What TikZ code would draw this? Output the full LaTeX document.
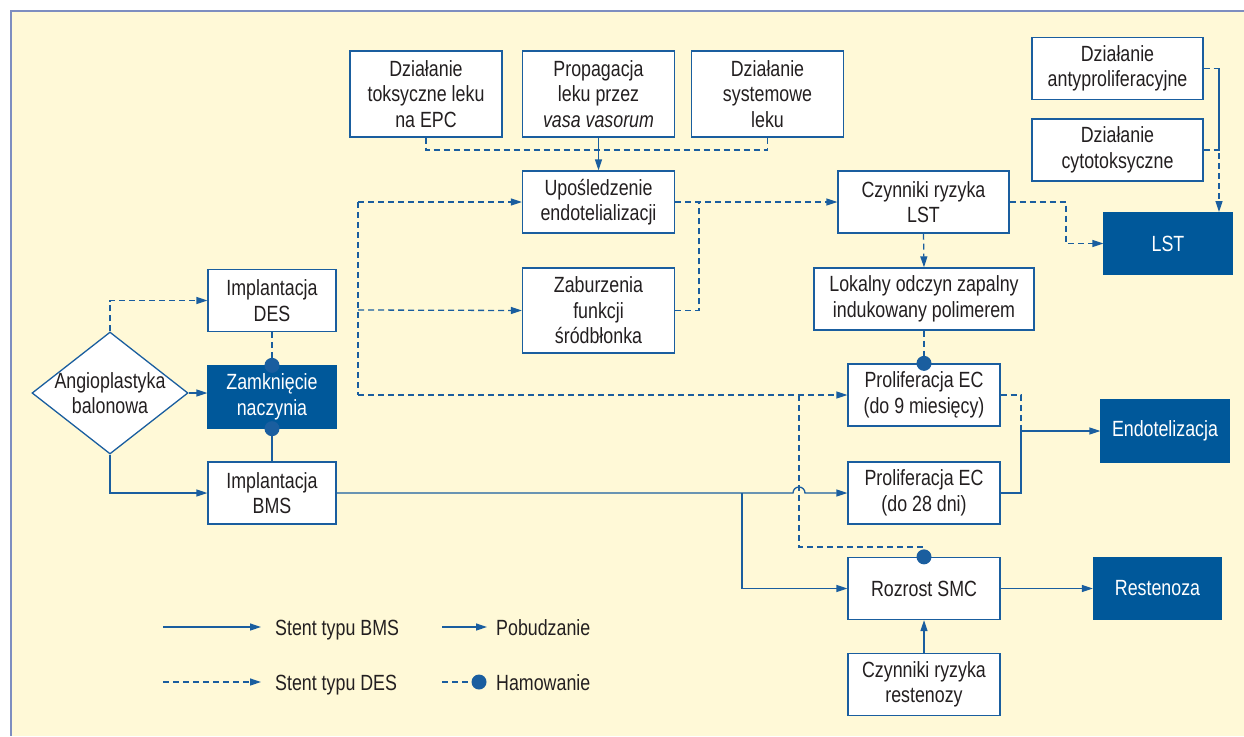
\documentclass[tikz,border=0pt]{standalone}
\usepackage{fontspec}
\setmainfont{Liberation Sans}[FakeStretch=0.81]
\usetikzlibrary{arrows.meta,shapes.geometric}
\definecolor{linia}{HTML}{1A5E9F}
\definecolor{ciemny}{HTML}{00589A}
\definecolor{tlo}{HTML}{FFF9D7}
\definecolor{ramka}{HTML}{7E8EC0}
\definecolor{tekst}{HTML}{231F20}

\begin{document}
\begin{tikzpicture}[x=1pt, y=-1pt, font=\fontsize{22}{25.5}\selectfont,
  pole/.style={draw=linia, line width=1.3pt, fill=white, text=tekst, align=center,
    inner sep=0pt, minimum width=152pt, minimum height=62pt},
  wynik/.style={pole, draw=ciemny, fill=ciemny, text=white, minimum width=128pt},
  romb/.style={diamond, draw=linia, line width=1.3pt, fill=white, inner sep=0pt,
    minimum width=156pt, minimum height=122pt},
  bmsl/.style={draw=linia, line width=1.3pt},
  desl/.style={bmsl, dash pattern=on 6pt off 4pt},
  grot/.style={-{Triangle[length=11pt,width=7pt]}},
  opis/.style={anchor=base west, text=tekst, inner sep=0pt}]

\useasboundingbox (0,0) rectangle (1244,736);
\fill[tlo] (11,11) rectangle (1244,736); % tlo
\draw[ramka, line width=2.5pt] (1244,11) -- (11,11) -- (11,736); % ramka

% gorny rzad
\node[pole, minimum height=86pt] (toks) at (426,94) {Działanie\\toksyczne leku\\na EPC}; % toks
\node[pole, minimum height=86pt] (vasa) at (598.5,94) {Propagacja\\leku przez\\\textit{vasa vasorum}}; % vasa
\node[pole, minimum height=86pt] (syst) at (767.5,94) {Działanie\\systemowe\\leku}; % syst
\node[pole] (upos) at (598.5,202) {Upośledzenie\\endotelializacji}; % upos
\node[pole, minimum height=85pt] (zabu) at (598.5,310.5) {Zaburzenia\\funkcji\\śródbłonka}; % zabu

% LST
\node[pole, minimum width=171pt] (anty) at (1117.5,68.5) {Działanie\\antyproliferacyjne}; % anty
\node[pole, minimum width=171pt] (cyto) at (1117.5,150) {Działanie\\cytotoksyczne}; % cyto
\node[pole, minimum width=171pt] (czlst) at (923.5,202) {Czynniki ryzyka\\LST}; % czlst
\node[wynik] (lst) at (1168,243.5) {LST}; % lst
\node[pole, minimum width=220pt] (lok) at (924,299) {Lokalny odczyn zapalny\\indukowany polimerem}; % lok

% prawa kolumna
\node[pole] (pr9) at (924,395) {Proliferacja EC\\(do 9 miesięcy)}; % pr9
\node[pole] (pr28) at (924,493) {Proliferacja EC\\(do 28 dni)}; % pr28
\node[pole] (smc) at (924,588.5) {Rozrost SMC}; % smc
\node[pole] (czres) at (924,684.5) {Czynniki ryzyka\\restenozy}; % czres
\node[wynik] (endo) at (1165,431) {Endotelizacja}; % endo
\node[wynik] (rest) at (1157.5,588.5) {Restenoza}; % rest

% lewa strona
\node[romb] (angio) at (110,393) {}; % angio
\node[align=center, text=tekst, inner sep=0pt] at (angio) {Angioplastyka\\balonowa}; % angio
\node[pole, minimum width=128pt] (des) at (272,300.5) {Implantacja\\DES}; % des
\node[wynik] (zamk) at (272,397) {Zamknięcie\\naczynia}; % zamk
\node[pole, minimum width=128pt] (bms) at (272,493) {Implantacja\\BMS}; % bms

% punkty pomocnicze
\coordinate (zbier) at (598.5,150); % zbier
\coordinate (pien) at (358,310); % pien
\coordinate (lacz) at (699,202); % lacz
\coordinate (lstzb) at (1066,243.5); % lstzb
\coordinate (pionlst) at (1219,212); % pionlst
\coordinate (endozb) at (1021,431); % endozb
\coordinate (rozg) at (742,493); % rozg
\coordinate (hamsmc) at (799,547); % hamsmc

% polaczenia DES
\draw[desl] (toks.south) |- (zbier) -| (syst.south); % zbier
\draw[bmsl, grot] (vasa.south) -- (upos.north); % vasa-upos
\draw[desl] (pien |- upos.west) -- (pien |- pr9.west); % pien
\draw[desl, grot] (pien |- upos.west) -- (upos.west); % pien-upos
\draw[desl, grot] (pien) -- (zabu.west); % pien-zabu
\draw[desl, grot] (pien |- pr9.west) -- (pr9.west); % pien-pr9
\draw[desl, grot] (upos.east) -- (czlst.west); % upos-czlst
\draw[desl] (zabu.east) -| (lacz); % zabu-lacz
\draw[desl, grot] (czlst.east) -| (lstzb) -- (lst.west); % czlst-lst
\draw[desl, grot] (anty.east) -| (pionlst); % anty-lst
\draw[desl] (cyto.east) -| (pionlst |- anty.east); % cyto-lst
\draw[desl, grot] (czlst.south) -- (lok.north); % czlst-lok
\draw[desl] (lok.south) -- (pr9.north); % lok-pr9
\fill[linia] (pr9.north) circle (7.5); % lok-pr9
\draw[desl] (pr9.east) -| (endozb); % pr9-endo
\draw[desl] (hamsmc |- pr9.west) -- (hamsmc) -| (smc.north); % pr9-smc
\fill[linia] (smc.north) circle (7.5); % pr9-smc

% polaczenia BMS
\draw[bmsl, grot] (bms.east) -- (793,493) arc[start angle=180, end angle=360, radius=6] -- (pr28.west); % bms-pr28
\draw[bmsl, grot] (rozg) |- (smc.west); % bms-smc
\draw[bmsl] (pr28.east) -| (endozb); % pr28-endo
\draw[bmsl, grot] (endozb) -- (endo.west); % endo
\draw[bmsl, grot] (smc.east) -- (rest.west); % smc-rest
\draw[bmsl, grot] (czres.north) -- (smc.south); % czres-smc

% lewa strona
\draw[desl, grot] (angio.north) |- (des.west); % angio-des
\draw[bmsl, grot] (angio.south) |- (bms.west); % angio-bms
\draw[bmsl, grot] (angio.east) -- (zamk.west |- angio.east); % angio-zamk
\draw[desl] (des.south) -- (zamk.north); % des-zamk
\fill[linia] (zamk.north) circle (7.5); % des-zamk
\draw[bmsl] (bms.north) -- (zamk.south); % bms-zamk
\fill[linia] (zamk.south) circle (7.5); % bms-zamk

% legenda
\draw[bmsl, grot] (163,627) -- (261,627); % leg1
\node[opis] (leg1) at (275,635) {Stent typu BMS}; % leg1
\draw[desl, grot] (163,682) -- (261,682); % leg2
\node[opis] (leg2) at (275,690) {Stent typu DES}; % leg2
\draw[bmsl, grot] (442,627) -- (487,627); % leg3
\node[opis] (leg3) at (496,635) {Pobudzanie}; % leg3
\draw[desl] (442,682) -- (479,682); % leg4
\fill[linia] (479,682) circle (7.5); % leg4
\node[opis] (leg4) at (496,690) {Hamowanie}; % leg4

\end{tikzpicture}
\end{document}
